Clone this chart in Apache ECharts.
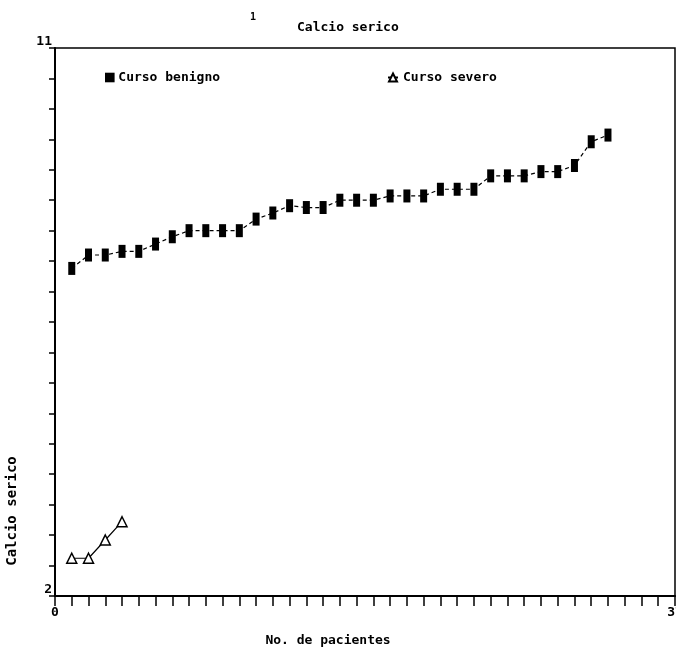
<!DOCTYPE html>
<html>
<head>
<meta charset="utf-8">
<script src="https://cdn.jsdelivr.net/npm/echarts@6/dist/echarts.min.js"></script>
<style>
  html, body { margin: 0; padding: 0; background: #fff; }
  #chart { width: 676px; height: 648px; }
</style>
</head>
<body>
<div id="chart"></div>
<script>
// datos
const pacientesBenigno = [1, 2, 3, 4, 5, 6, 7, 8, 9, 10, 11, 12, 13, 14, 15, 16, 17,
  18, 19, 20, 21, 22, 23, 24, 25, 26, 27, 28, 29, 30, 31, 32, 33]
const calcioBenigno = [7.38, 7.60, 7.60, 7.66, 7.66, 7.78, 7.90, 8.00, 8.00, 8.00, 8.00,
  8.19, 8.29, 8.41, 8.38, 8.38, 8.50, 8.50, 8.50, 8.57, 8.57, 8.57, 8.68, 8.68, 8.68,
  8.90, 8.90, 8.90, 8.97, 8.97, 9.07, 9.46, 9.57]
const pacientesSevero = [1, 2, 3, 4]
const calcioSevero = [2.62, 2.62, 2.92, 3.22]
const yLabels = [2, 11]
const xLabels = [0, 37]

const font = '"DejaVu Sans Mono", monospace'
const texto = { fontFamily: font, fontSize: 13, fontWeight: 'bold', color: '#000' }

const pares = (xs, ys) => xs.map((x, i) => [x, ys[i]])

const chart = echarts.init(document.getElementById('chart'))
chart.setOption({
  animation: false,
  backgroundColor: '#fff',
  textStyle: { fontFamily: font, color: '#000' },
  title: {
    text: 'Calcio serico',
    left: 292,
    top: 16,
    textStyle: texto
  },
  legend: [
    {
      data: ['Curso benigno'],
      left: 100,
      top: 66,
      itemWidth: 7,
      itemHeight: 12,
      itemGap: 6,
      textStyle: texto
    },
    {
      data: ['Curso severo'],
      left: 382,
      top: 66,
      itemWidth: 10,
      itemHeight: 10,
      itemGap: 6,
      textStyle: texto
    }
  ],
  grid: {
    left: 55,
    top: 48,
    right: 1,
    bottom: 52,
    outerBoundsMode: 'none',
    containLabel: false,
    show: true,
    borderColor: '#000',
    borderWidth: 1.5
  },
  xAxis: {
    type: 'value',
    min: 0,
    max: 37,
    interval: 1,
    axisLine: { lineStyle: { color: '#000', width: 2 } },
    axisTick: { length: 10, lineStyle: { color: '#000', width: 1.5 } },
    splitLine: { show: false },
    axisLabel: Object.assign({
      margin: 10,
      formatter: v => xLabels.includes(v) ? String(v) : ''
    }, texto),
    name: 'No. de pacientes',
    nameLocation: 'middle',
    nameGap: 38,
    nameTextStyle: Object.assign({ padding: [0, 74, 0, 0] }, texto)
  },
  yAxis: {
    type: 'value',
    min: 2,
    max: 11,
    interval: 0.5,
    axisLine: { lineStyle: { color: '#000', width: 2 } },
    axisTick: { length: 6, lineStyle: { color: '#000', width: 1.5 } },
    splitLine: { show: false },
    axisLabel: Object.assign({
      margin: 3,
      verticalAlign: 'bottom',
      formatter: v => yLabels.includes(v) ? String(v) : ''
    }, texto)
  },
  graphic: [
    {
      type: 'text',
      x: 12,
      y: 511,
      rotation: Math.PI / 2,
      style: {
        text: 'Calcio serico',
        font: 'bold 14px ' + font,
        fill: '#000',
        align: 'center',
        verticalAlign: 'middle'
      }
    },
    {
      type: 'text',
      x: 253,
      y: 17,
      style: { text: '1', font: 'bold 10px ' + font, fill: '#000', align: 'center', verticalAlign: 'middle' }
    }
  ],
  series: [
    {
      name: 'Curso benigno',
      type: 'line',
      data: pares(pacientesBenigno, calcioBenigno),
      symbol: 'rect',
      symbolSize: [7, 13],
      itemStyle: { color: '#000' },
      lineStyle: { color: '#000', width: 1.2, type: [4, 3] }
    },
    {
      name: 'Curso severo',
      type: 'line',
      data: pares(pacientesSevero, calcioSevero),
      symbol: 'triangle',
      symbolSize: 10,
      itemStyle: { color: '#fff', borderColor: '#000', borderWidth: 1.5 },
      lineStyle: { color: '#000', width: 1.2 }
    }
  ]
})
</script>
</body>
</html>
